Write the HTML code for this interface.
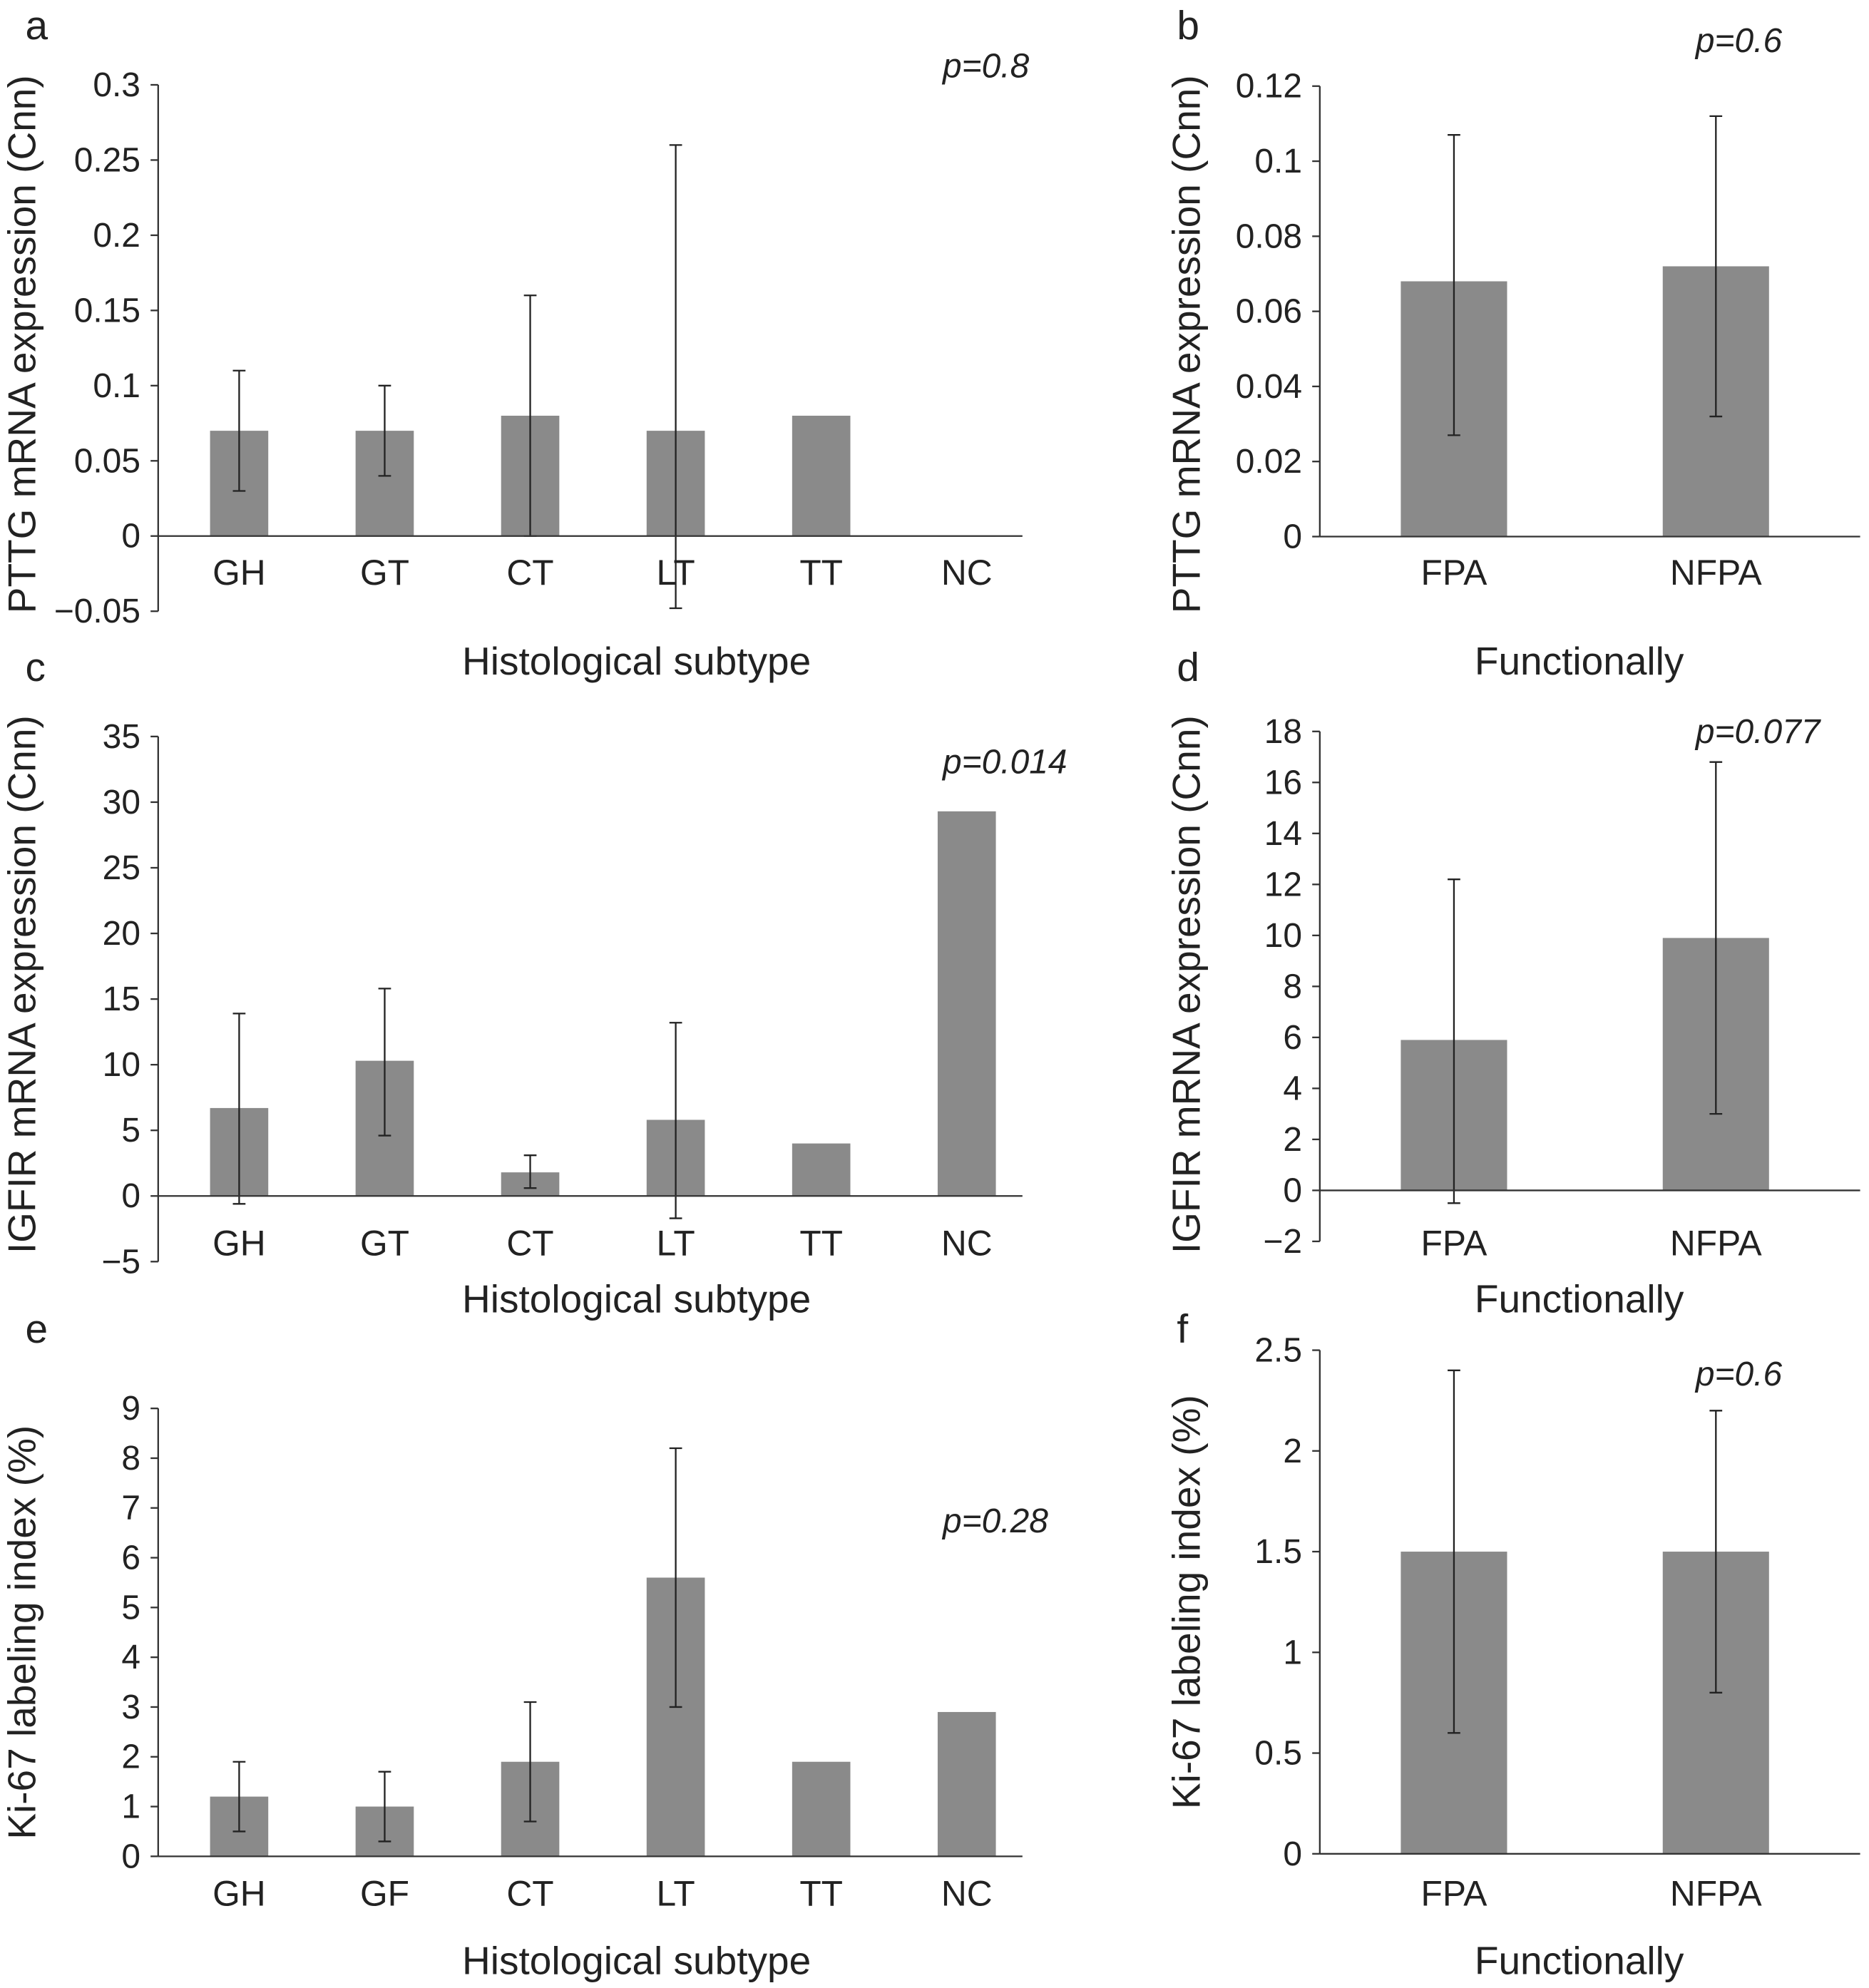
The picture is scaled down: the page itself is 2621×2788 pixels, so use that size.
<!DOCTYPE html>
<html><head><meta charset="utf-8"><style>html,body{margin:0;padding:0;background:#fff}svg{display:block}text{font-family:"Liberation Sans",sans-serif;fill:#222}</style></head>
<body>
<svg id="fig" width="2621" height="2788" viewBox="0 0 1477 1571" xmlns="http://www.w3.org/2000/svg"></svg>
<script>
const catsA=["GH","GT","CT","LT","TT","NC"];
const valsA=[0.07,0.07,0.08,0.07,0.08,0];
const loA=[0.03,0.04,0,-0.048,null,null];
const hiA=[0.11,0.10,0.16,0.26,null,null];
const ticksA=["0.3","0.25","0.2","0.15","0.1","0.05","0","\u22120.05"];
const catsB=["FPA","NFPA"];
const valsB=[0.068,0.072];
const loB=[0.027,0.032];
const hiB=[0.107,0.112];
const ticksB=["0.12","0.1","0.08","0.06","0.04","0.02","0"];
const catsC=["GH","GT","CT","LT","TT","NC"];
const valsC=[6.7,10.3,1.8,5.8,4,29.3];
const loC=[-0.6,4.6,0.6,-1.7,null,null];
const hiC=[13.9,15.8,3.1,13.2,null,null];
const ticksC=["35","30","25","20","15","10","5","0","\u22125"];
const catsD=["FPA","NFPA"];
const valsD=[5.9,9.9];
const loD=[-0.5,3.0];
const hiD=[12.2,16.8];
const ticksD=["18","16","14","12","10","8","6","4","2","0","\u22122"];
const catsE=["GH","GF","CT","LT","TT","NC"];
const valsE=[1.2,1.0,1.9,5.6,1.9,2.9];
const loE=[0.5,0.3,0.7,3.0,null,null];
const hiE=[1.9,1.7,3.1,8.2,null,null];
const ticksE=["9","8","7","6","5","4","3","2","1","0"];
const catsF=["FPA","NFPA"];
const valsF=[1.5,1.5];
const loF=[0.6,0.8];
const hiF=[2.4,2.2];
const ticksF=["2.5","2","1.5","1","0.5","0"];

const NS="http://www.w3.org/2000/svg";
const svg=document.getElementById('fig');
function el(t,a,txt){const e=document.createElementNS(NS,t);for(const k in a)e.setAttribute(k,a[k]);if(txt!==undefined)e.textContent=txt;svg.appendChild(e);return e;}

function panel(p){
  const y=v=>p.y0+(p.yMax-v)/(p.yMax-p.yMin)*(p.y1-p.y0);
  const xOf=i=>p.cx0+i*p.dx;
  const ax=el('line',{x1:p.ax,y1:y(p.yMax),x2:p.ax,y2:y(p.yMin),stroke:'#333','stroke-width':1.3});
  
  
  const n=p.ticks.length;
  for(let i=0;i<n;i++){
    const v=p.yMax-i*(p.yMax-p.yMin)/(n-1);
    el('line',{x1:p.ax-6,y1:y(v),x2:p.ax,y2:y(v),stroke:'#333','stroke-width':1.3});
    const t=el('text',{x:p.ax-14,y:y(v)+9,'text-anchor':'end','font-size':27},p.ticks[i]);
    
    
  }
  p.vals.forEach((v,i)=>{
    const cx=xOf(i);
    const r=el('rect',{x:cx-p.bw/2,y:Math.min(y(v),y(0)),width:p.bw,height:Math.max(Math.abs(y(v)-y(0)),0.5),fill:'#8a8a8a'});
    
    
    if(p.lo[i]!==null){
      const g=[['line',{x1:cx,y1:y(p.hi[i]),x2:cx,y2:y(p.lo[i])}],['line',{x1:cx-5,y1:y(p.hi[i]),x2:cx+5,y2:y(p.hi[i])}],['line',{x1:cx-5,y1:y(p.lo[i]),x2:cx+5,y2:y(p.lo[i])}]];
      g.forEach(([t,a])=>{a.stroke='#222';a['stroke-width']=1.3;const e=el(t,a);});
    }
    const l=el('text',{x:cx,y:p.catY,'text-anchor':'middle','font-size':28},p.cats[i]);
    
    
  });
  const xa=el('line',{x1:p.ax,y1:y(0),x2:p.axEnd,y2:y(0),stroke:'#333','stroke-width':1.3});
  
  
  const xt=el('text',{x:p.titleX,y:p.titleY,'text-anchor':'middle','font-size':31},p.xTitle);
  
  
  const yt=el('text',{x:0,y:0,'text-anchor':'middle','font-size':31,transform:`translate(${p.ylx},${p.yly}) rotate(-90)`},p.yTitle);
  
  
  const pv=el('text',{x:p.px,y:p.py,'font-size':27,'font-style':'italic'},p.pText);
  
  
  const lt=el('text',{x:p.lx,y:p.ly,'font-size':32},p.letter);
  
  
}
const L={ax:125,cx0:189,dx:115,bw:46,axEnd:808,titleX:503,ylx:28};
const R={ax:1043,cx0:1149,dx:207,bw:84,axEnd:1470,titleX:1248,ylx:948};
panel({...L,id:'panel-a',cats:catsA,vals:valsA,lo:loA,hi:hiA,ticks:ticksA,yMax:0.3,yMin:-0.05,y0:67,y1:483,catY:462,titleY:533,xTitle:'Histological subtype',yTitle:'PTTG mRNA expression (Cnn)',yly:272,pText:'p=0.8',px:745,py:61,letter:'a',lx:20,ly:31});
panel({...R,id:'panel-b',cats:catsB,vals:valsB,lo:loB,hi:hiB,ticks:ticksB,yMax:0.12,yMin:0,y0:68,y1:424,catY:462,titleY:533,xTitle:'Functionally',yTitle:'PTTG mRNA expression (Cnn)',yly:272,pText:'p=0.6',px:1340,py:41,letter:'b',lx:930,ly:31});
panel({...L,id:'panel-c',cats:catsC,vals:valsC,lo:loC,hi:hiC,ticks:ticksC,yMax:35,yMin:-5,y0:582,y1:997,catY:992,titleY:1037,xTitle:'Histological subtype',yTitle:'IGFIR mRNA expression (Cnn)',yly:778,pText:'p=0.014',px:745,py:611,letter:'c',lx:20,ly:538});
panel({...R,id:'panel-d',cats:catsD,vals:valsD,lo:loD,hi:hiD,ticks:ticksD,yMax:18,yMin:-2,y0:578,y1:981,catY:992,titleY:1037,xTitle:'Functionally',yTitle:'IGFIR mRNA expression (Cnn)',yly:778,pText:'p=0.077',px:1340,py:587,letter:'d',lx:930,ly:538});
panel({...L,id:'panel-e',cats:catsE,vals:valsE,lo:loE,hi:hiE,ticks:ticksE,yMax:9,yMin:0,y0:1113,y1:1467,catY:1506,titleY:1560,xTitle:'Histological subtype',yTitle:'Ki-67 labeling index (%)',yly:1290,pText:'p=0.28',px:745,py:1211,letter:'e',lx:20,ly:1061});
panel({...R,id:'panel-f',cats:catsF,vals:valsF,lo:loF,hi:hiF,ticks:ticksF,yMax:2.5,yMin:0,y0:1067,y1:1465,catY:1506,titleY:1560,xTitle:'Functionally',yTitle:'Ki-67 labeling index (%)',yly:1266,pText:'p=0.6',px:1340,py:1095,letter:'f',lx:930,ly:1061});
</script>
</body></html>
